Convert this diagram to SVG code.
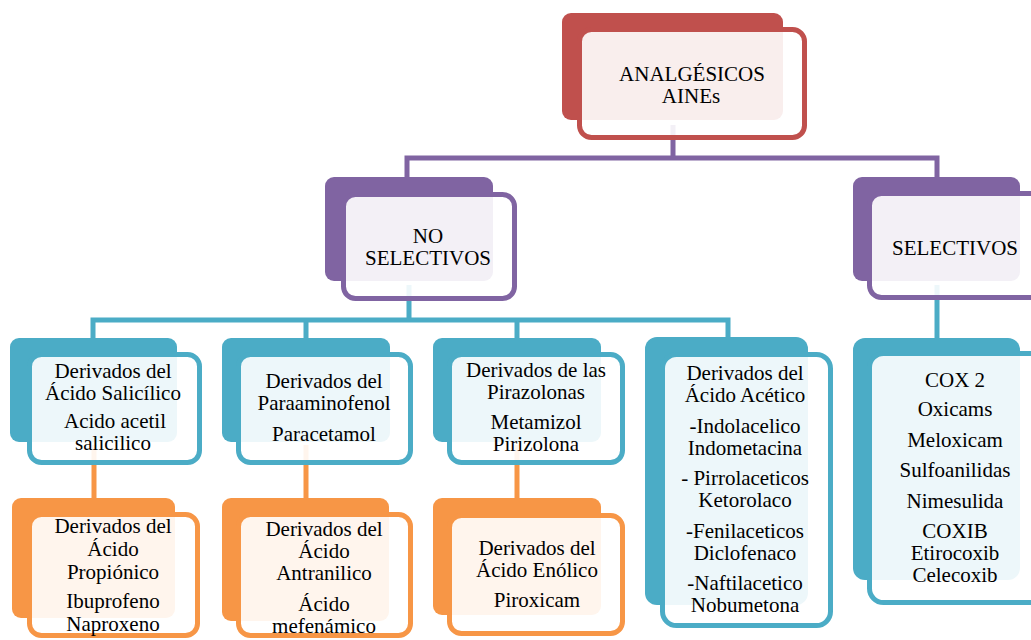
<svg xmlns="http://www.w3.org/2000/svg" width="1031" height="640" viewBox="0 0 1031 640">
  <style>
    text { font-family: "Liberation Serif", "Times New Roman", serif; font-size: 21px; fill: #000; text-anchor: middle; }
    .link { fill: none; stroke-width: 5; stroke-linejoin: miter; }
    .front { fill: #ffffff; fill-opacity: 0.9; stroke-width: 5; }
    .red .back { fill: #C0504D; } .red .front { stroke: #C0504D; }
    .purple .back { fill: #8064A2; } .purple .front { stroke: #8064A2; }
    .teal .back { fill: #4BACC6; } .teal .front { stroke: #4BACC6; }
    .orange .back { fill: #F79646; } .orange .front { stroke: #F79646; }
  </style>
  <rect width="1031" height="640" fill="#ffffff"/>

  <!-- connectors -->
  <g id="connectors">
    <path class="link" stroke="#8064A2" d="M673 125 V158 M407 180 V158 H937 V180"/>
    <path class="link" stroke="#4BACC6" d="M409 285 V320 M93 341 V320 H728 V341 M306 320 V341 M517 320 V341"/>
    <path class="link" stroke="#4BACC6" d="M937 285 V341"/>
    <path class="link" stroke="#F79646" d="M94 445 V501 M306 445 V501 M517 445 V501"/>
  </g>

  <!-- level 0 -->
  <g id="node-aines" class="red">
    <rect class="back" x="562" y="13" width="221" height="107" rx="9"/>
    <rect class="front" x="579.5" y="29.5" width="225" height="108" rx="12"/>
    <text x="692" y="81">ANALGÉSICOS</text>
    <text x="691" y="103">AINEs</text>
  </g>

  <!-- level 1 -->
  <g id="node-no-selectivos" class="purple">
    <rect class="back" x="325" y="177" width="168" height="104" rx="9"/>
    <rect class="front" x="343.5" y="194.5" width="171" height="104" rx="12"/>
    <text x="428" y="243">NO</text>
    <text x="428" y="265">SELECTIVOS</text>
  </g>
  <g id="node-selectivos" class="purple">
    <rect class="back" x="853" y="177" width="167" height="104" rx="9"/>
    <rect class="front" x="869.5" y="193.5" width="180" height="104" rx="12"/>
    <text x="955" y="255">SELECTIVOS</text>
  </g>

  <!-- level 2 -->
  <g id="node-salicilico" class="teal">
    <rect class="back" x="10" y="338" width="167" height="104" rx="9"/>
    <rect class="front" x="29.5" y="354.5" width="170" height="108" rx="12"/>
    <text x="113" y="378">Derivados del</text>
    <text x="113" y="400">Ácido Salicílico</text>
    <text x="115" y="428">Acido acetil</text>
    <text x="113" y="450">salicilico</text>
  </g>
  <g id="node-paraaminofenol" class="teal">
    <rect class="back" x="222" y="338" width="168" height="104" rx="9"/>
    <rect class="front" x="238.5" y="354.5" width="172" height="108" rx="12"/>
    <text x="324" y="388">Derivados del</text>
    <text x="324" y="410">Paraaminofenol</text>
    <text x="324" y="441">Paracetamol</text>
  </g>
  <g id="node-pirazolonas" class="teal">
    <rect class="back" x="433" y="338" width="168" height="104" rx="9"/>
    <rect class="front" x="449.5" y="354.5" width="173" height="108" rx="12"/>
    <text x="536" y="377">Derivados de las</text>
    <text x="536" y="399">Pirazolonas</text>
    <text x="536" y="429">Metamizol</text>
    <text x="536" y="451">Pirizolona</text>
  </g>
  <g id="node-acetico" class="teal">
    <rect class="back" x="645" y="337" width="163" height="268" rx="12"/>
    <rect class="front" x="662.5" y="354.5" width="168" height="271" rx="14"/>
    <text x="745" y="380">Derivados del</text>
    <text x="745" y="402">Ácido Acético</text>
    <text x="745" y="433">-Indolacelico</text>
    <text x="745" y="455">Indometacina</text>
    <text x="745" y="485">- Pirrolaceticos</text>
    <text x="745" y="507">Ketorolaco</text>
    <text x="745" y="538">-Fenilaceticos</text>
    <text x="745" y="560">Diclofenaco</text>
    <text x="745" y="590">-Naftilacetico</text>
    <text x="745" y="612">Nobumetona</text>
  </g>
  <g id="node-cox2" class="teal">
    <rect class="back" x="853" y="338" width="167" height="242" rx="12"/>
    <rect class="front" x="869.5" y="353.5" width="180" height="249" rx="14"/>
    <text x="955" y="387">COX 2</text>
    <text x="955" y="416">Oxicams</text>
    <text x="955" y="447">Meloxicam</text>
    <text x="955" y="477">Sulfoanilidas</text>
    <text x="955" y="508">Nimesulida</text>
    <text x="955" y="538">COXIB</text>
    <text x="955" y="560">Etirocoxib</text>
    <text x="955" y="582">Celecoxib</text>
  </g>

  <!-- level 3 -->
  <g id="node-propionico" class="orange">
    <rect class="back" x="12" y="498" width="163" height="120" rx="9"/>
    <rect class="front" x="29.5" y="514.5" width="168" height="121" rx="12"/>
    <text x="113" y="533">Derivados del</text>
    <text x="113" y="556">Ácido</text>
    <text x="113" y="579">Propiónico</text>
    <text x="113" y="608">Ibuprofeno</text>
    <text x="113" y="631">Naproxeno</text>
  </g>
  <g id="node-antranilico" class="orange">
    <rect class="back" x="222" y="498" width="167" height="123" rx="9"/>
    <rect class="front" x="238.5" y="514.5" width="172" height="121" rx="12"/>
    <text x="324" y="536">Derivados del</text>
    <text x="324" y="558">Ácido</text>
    <text x="324" y="580">Antranilico</text>
    <text x="324" y="611">Ácido</text>
    <text x="324" y="633">mefenámico</text>
  </g>
  <g id="node-enolico" class="orange">
    <rect class="back" x="433" y="498" width="168" height="117" rx="9"/>
    <rect class="front" x="449.5" y="515.5" width="173" height="118" rx="12"/>
    <text x="537" y="555">Derivados del</text>
    <text x="537" y="577">Ácido Enólico</text>
    <text x="537" y="607">Piroxicam</text>
  </g>
</svg>
